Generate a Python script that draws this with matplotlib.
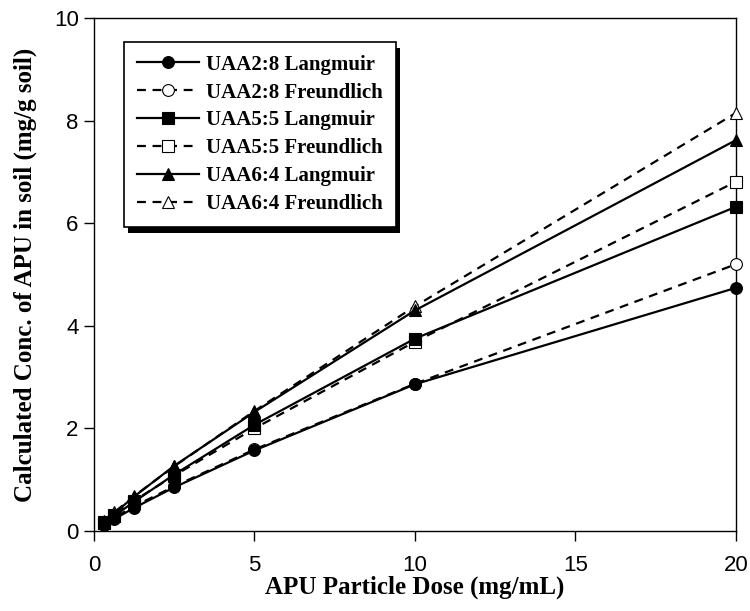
import numpy as np
import matplotlib
matplotlib.use('Agg')
import matplotlib.pyplot as plt
from matplotlib.patches import Rectangle

# --- data ---
dose = [0.3125, 0.625, 1.25, 2.5, 5, 10, 20]

uaa28_lang = [0.12, 0.23, 0.45, 0.85, 1.57, 2.86, 4.74]
uaa28_freu = [0.14, 0.26, 0.48, 0.87, 1.59, 2.87, 5.20]
uaa55_lang = [0.15, 0.29, 0.57, 1.10, 2.07, 3.75, 6.32]
uaa55_freu = [0.17, 0.32, 0.59, 1.08, 2.00, 3.69, 6.81]
uaa64_lang = [0.17, 0.34, 0.67, 1.27, 2.32, 4.30, 7.62]
uaa64_freu = [0.19, 0.36, 0.68, 1.26, 2.34, 4.38, 8.15]

labels = ['UAA2:8 Langmuir', 'UAA2:8 Freundlich',
          'UAA5:5 Langmuir', 'UAA5:5 Freundlich',
          'UAA6:4 Langmuir', 'UAA6:4 Freundlich']

series = [uaa28_lang, uaa28_freu, uaa55_lang, uaa55_freu, uaa64_lang, uaa64_freu]
markers = ['o', 'o', 's', 's', '^', '^']
filled = [True, False, True, False, True, False]

fig = plt.figure(figsize=(7.5, 6.11), dpi=100)
ax = fig.add_axes([0.1253, 0.131, 0.856, 0.8395])

for vals, m, f, lab in zip(series, markers, filled, labels):
    ls = '-' if f else (0, (4, 3))
    ax.plot(dose, vals, color='black', linestyle=ls, linewidth=1.6,
            marker=m, markersize=8.5 if m != 's' else 8,
            markerfacecolor='black' if f else 'white',
            markeredgecolor='black', markeredgewidth=0.8,
            label=lab, clip_on=False, zorder=4 if f else 3)

ax.set_xlim(0, 20)
ax.set_ylim(0, 10)
ax.set_xticks([0, 5, 10, 15, 20])
ax.set_yticks([0, 2, 4, 6, 8, 10])
ax.tick_params(direction='out', length=7, width=1, labelsize=16,
               top=False, right=False)
ax.tick_params(axis='x', pad=10)
ax.tick_params(axis='y', pad=4)
for lab in ax.get_xticklabels() + ax.get_yticklabels():
    lab.set_family('Liberation Sans')
for sp in ax.spines.values():
    sp.set_linewidth(1)

ax.set_xlabel('APU Particle Dose (mg/mL)', family='Liberation Serif',
              fontweight='bold', fontsize=18, labelpad=0)
ax.set_ylabel('Calculated Conc. of APU in soil (mg/g soil)', family='Liberation Serif',
              fontweight='bold', fontsize=18, labelpad=12)

leg = ax.legend(loc='upper left', bbox_to_anchor=(0.047, 0.953),
                prop={'family': 'Liberation Serif', 'weight': 'bold', 'size': 15},
                frameon=True, fancybox=False, framealpha=1,
                handlelength=3.0, handletextpad=0.35, borderpad=0.6,
                borderaxespad=0, labelspacing=0.38)
leg.get_frame().set_edgecolor('black')
leg.get_frame().set_linewidth(1.2)
leg.set_zorder(10)

# solid drop shadow under the legend box (figure-fraction coords)
fig.canvas.draw()
bb = leg.get_frame().get_window_extent().transformed(fig.transFigure.inverted())
dx, dy = 4 / 750, 6 / 611
fig.patches.append(Rectangle((bb.x0 + dx, bb.y0 - dy), bb.width, bb.height,
                             transform=fig.transFigure, figure=fig,
                             facecolor='black', edgecolor='none', zorder=0))
ax.set_zorder(1)
ax.patch.set_alpha(0)

fig.savefig('out.png', dpi=100)
